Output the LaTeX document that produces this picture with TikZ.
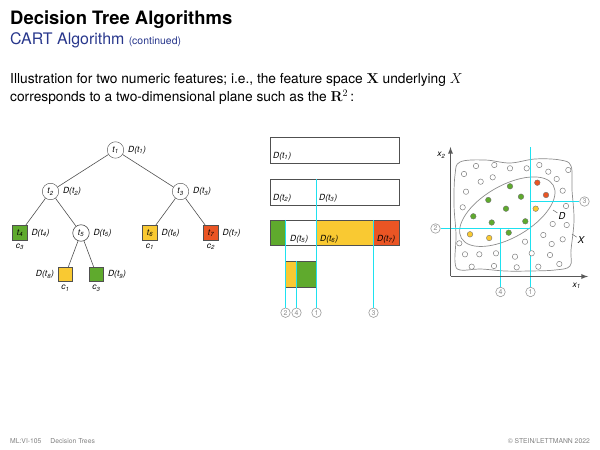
\documentclass[tikz,border=0pt]{standalone}
\usepackage[no-math]{fontspec}
\setmainfont{TeX Gyre Heros}
\usepackage{amssymb}
\usepackage{tikz}
\usetikzlibrary{arrows,positioning}

\definecolor{cgreen}{RGB}{95,170,45}
\definecolor{cyellow}{RGB}{249,201,50}
\definecolor{cred}{RGB}{234,85,36}
\definecolor{ccyan}{RGB}{30,225,240}
\definecolor{cblue}{RGB}{40,55,140}
\definecolor{cline}{RGB}{80,80,80}

\newcommand{\Dt}[1]{\textit{D(t\textsubscript{#1})}}
\newcommand{\tn}[1]{\textit{t\textsubscript{#1}}}
\newcommand{\cl}[1]{\textit{c\textsubscript{#1}}}

\begin{document}
\begin{tikzpicture}[x=1bp,y=1bp]
\tikzstyle{every node}=[inner sep=0pt]
\tikzstyle{inode}=[circle, draw=cline, fill=white, minimum size=16.5bp, font=\fontsize{8.5}{9}\selectfont]
\tikzstyle{leaf}=[rectangle, draw=cline, minimum size=14.5bp, font=\fontsize{8.5}{9}\selectfont]
\tikzstyle{dlbl}=[font=\fontsize{8.5}{9}\selectfont, inner sep=1pt]
\tikzstyle{level 1}=[sibling distance=130bp]
\tikzstyle{level 2}=[sibling distance=61bp]
\tikzstyle{level 3}=[sibling distance=31bp]
\tikzstyle{cut}=[draw=ccyan, line width=1.4bp]
\tikzstyle{num}=[circle, draw=black!40, text=black!45, line width=0.6pt, minimum size=9.5bp, font=\fontsize{7}{7}\selectfont]
\tikzstyle{odot}=[draw=black!50, fill=white, line width=0.5pt]
\tikzstyle{fdot}=[draw=black!55, line width=0.4pt]
\tikzstyle{part}=[draw=cline, line width=0.7pt]
\useasboundingbox (0,0) rectangle (600,-450);

% header
\node[anchor=base west, font=\fontsize{18.5}{20}\selectfont\bfseries] (title) at (10,-25) {Decision Tree Algorithms};
\node[anchor=base west, font=\fontsize{16}{18}\selectfont, text=cblue] (sub) at (10,-45) {CART Algorithm};
\node[anchor=base west, font=\fontsize{10.5}{12}\selectfont, text=cblue] (cont) at ([xshift=4pt]sub.base east) {(continued)};
\node[anchor=base west, font=\fontsize{13.8}{16}\selectfont] (line1) at (10,-84)
  {Illustration for two numeric features; i.e., the feature space $\mathbf{X}$ underlying $X$};
\node[anchor=base west, font=\fontsize{13.8}{16}\selectfont] (line2) at (10,-102)
  {corresponds to a two-dimensional plane such as the $\mathbf{R}^2$\,:};

% tree
\begin{scope}[level distance=41.5bp, edge from parent/.style={draw=cline, line width=0.6pt}]
\node[inode, label={[dlbl, label distance=3pt]right:\Dt{1}}] (t1) at (115.5,-150) {\tn{1}}
    child{node[inode, label={[dlbl, label distance=3pt]right:\Dt{2}}] (t2) {\tn{2}}
        child{node[leaf, fill=cgreen, label={[dlbl, label distance=3pt]right:\Dt{4}}, label={[dlbl, label distance=2pt]below:\cl{3}}] (t4) {\tn{4}}}
        child{node[inode, label={[dlbl, label distance=3pt]right:\Dt{5}}] (t5) {\tn{5}}
            child{node[leaf, fill=cyellow, label={[dlbl, label distance=3pt]left:\Dt{8}}, label={[dlbl, label distance=2pt]below:\cl{1}}] (t8) {}}
            child{node[leaf, fill=cgreen, label={[dlbl, label distance=3pt]right:\Dt{9}}, label={[dlbl, label distance=2pt]below:\cl{3}}] (t9) {}}
            }
        }
    child{node[inode, label={[dlbl, label distance=3pt]right:\Dt{3}}] (t3) {\tn{3}}
        child{node[leaf, fill=cyellow, label={[dlbl, label distance=3pt]right:\Dt{6}}, label={[dlbl, label distance=2pt]below:\cl{1}}] (t6) {\tn{6}}}
        child{node[leaf, fill=cred, label={[dlbl, label distance=3pt]right:\Dt{7}}, label={[dlbl, label distance=2pt]below:\cl{2}}] (t7) {\tn{7}}}
        }
    ;
\end{scope}

% partitions of D
\draw[part] (270.5,-137.5) rectangle (399,-163.5);
\node[dlbl, anchor=west] (p1) at (272,-156) {\Dt{1}};
\draw[part] (270.5,-179.5) rectangle (399,-205);
\node[dlbl, anchor=west] (p2) at (272,-198) {\Dt{2}};
\node[dlbl, anchor=west] (p3) at (318,-198) {\Dt{3}};
\fill[cgreen] (270.5,-220) rectangle (285.5,-245.5);
\fill[cyellow] (316.5,-220) rectangle (373.5,-245.5);
\fill[cred] (373.5,-220) rectangle (399,-245.5);
\draw[part] (270.5,-220) rectangle (399,-245.5);
\node[dlbl, anchor=west] (p5) at (289,-239) {\Dt{5}};
\node[dlbl, anchor=west] (p6) at (319,-239) {\Dt{6}};
\node[dlbl, anchor=west] (p7) at (376,-239) {\Dt{7}};
\fill[cyellow] (285.5,-261) rectangle (296.5,-287.5);
\fill[cgreen] (296.5,-261) rectangle (316.5,-287.5);
\draw[part] (285.5,-261) rectangle (316.5,-287.5);

\node[num] (m2) at (285.5,-312.7) {2};
\node[num] (m4) at (296.5,-312.7) {4};
\node[num] (m1) at (316.5,-312.7) {1};
\node[num] (m3) at (373.5,-312.7) {3};
\coordinate (m1top) at (316.5,-179.5);
\coordinate (m2top) at (285.5,-220);
\coordinate (m3top) at (373.5,-220);
\coordinate (m4top) at (296.5,-261);
\draw[cut] (m1top) -- (m1.north);
\draw[cut] (m2top) -- (m2.north);
\draw[cut] (m3top) -- (m3.north);
\draw[cut] (m4top) -- (m4.north);

% feature space
\draw[black!45, line width=0.7pt] plot[smooth cycle, tension=0.6] coordinates {
    (460,-162) (485,-160) (510,-163) (535,-159) (560,-160) (571,-166) (572,-190)
    (574,-220) (571,-250) (570,-266) (555,-270) (530,-271) (505,-271) (480,-269)
    (460,-270) (455,-262) (456,-235) (454,-205) (455,-175)};
\draw[black!45, line width=0.7pt, rotate around={30:(507.3,-211.7)}] (507.3,-211.7) ellipse (53 and 26);

\node[num] (s1) at (530.5,-292) {1};
\node[num] (s2) at (435.5,-228.5) {2};
\node[num] (s3) at (584.5,-201.5) {3};
\node[num] (s4) at (500.5,-292) {4};
\coordinate (s1top) at (530.5,-147.5);
\coordinate (s3end) at (530.5,-201.5);
\coordinate (s2end) at (530.5,-228.5);
\coordinate (s4top) at (500.5,-228.5);
\draw[cut] (s1top) -- (s1.north);
\draw[cut] (s3end) -- (s3.west);
\draw[cut] (s2.east) -- (s2end);
\draw[cut] (s4top) -- (s4.north);

\foreach \x/\y in {476/-166, 494.3/-165, 510/-168.3, 526.7/-168.3, 539.3/-165, 548.3/-171.7,
    568.3/-170, 464/-174, 480.7/-181.7, 492.7/-177.3, 556.7/-179, 562.7/-190.7, 466/-191.7,
    462.7/-207.3, 566/-206, 552.7/-224, 566.7/-225, 543.3/-235, 562.7/-239.3, 525/-241.7,
    551.7/-244, 459.3/-243.3, 465/-254.3, 479.3/-254.3, 496/-253.3, 515/-256.7, 531.7/-253.3,
    550/-255, 559.3/-264, 538.3/-266.7, 516.7/-267.3, 494/-266, 471.7/-266.7}
    \draw[odot] (\x,\y) circle (2.7);
\foreach \x/\y in {510/-186.3, 488.3/-200, 521/-196.7, 506/-208.7, 473.3/-216.3, 491.7/-222.5,
    525.3/-221.3, 508.7/-232.7}
    \filldraw[fdot, fill=cgreen] (\x,\y) circle (2.8);
\foreach \x/\y in {537.3/-182.7, 546/-195}
    \filldraw[fdot, fill=cred] (\x,\y) circle (2.8);
\foreach \x/\y in {535.7/-208.7, 470/-234.3, 489.2/-238}
    \filldraw[fdot, fill=cyellow] (\x,\y) circle (2.8);

\coordinate (Dpt) at (553,-210);
\node[dlbl, font=\fontsize{9.5}{10}\selectfont\itshape] (Dlab) at (562,-216) {D};
\draw[black!60, line width=0.5pt] (Dpt) -- (Dlab);
\coordinate (Xpt) at (572,-234);
\node[dlbl, font=\fontsize{9.5}{10}\selectfont\itshape] (Xlab) at (581,-240) {X};
\draw[black!60, line width=0.5pt] (Xpt) -- (Xlab);

% axes
\coordinate (O) at (450.5,-276.5);
\coordinate (x2end) at (450.5,-147);
\coordinate (x1end) at (588,-276.5);
\draw[black!65, line width=1.3pt, -latex] (O) -- (x2end);
\draw[black!65, line width=1.3pt, -latex] (O) -- (x1end);
\node[dlbl] (x2lab) at (441.5,-155.5) {\textit{x\textsubscript{2}}};
\node[dlbl] (x1lab) at (576.7,-286) {\textit{x\textsubscript{1}}};

% footer
\node[anchor=base west, font=\fontsize{6.8}{8}\selectfont, text=black!50] (foot1) at (10,-443.5) {ML:VI-105\hspace{9pt}Decision Trees};
\node[anchor=base east, font=\fontsize{6.8}{8}\selectfont, text=black!50] (foot2) at (590,-443.5) {\textcopyright\ STEIN/LETTMANN 2022};
\end{tikzpicture}
\end{document}
